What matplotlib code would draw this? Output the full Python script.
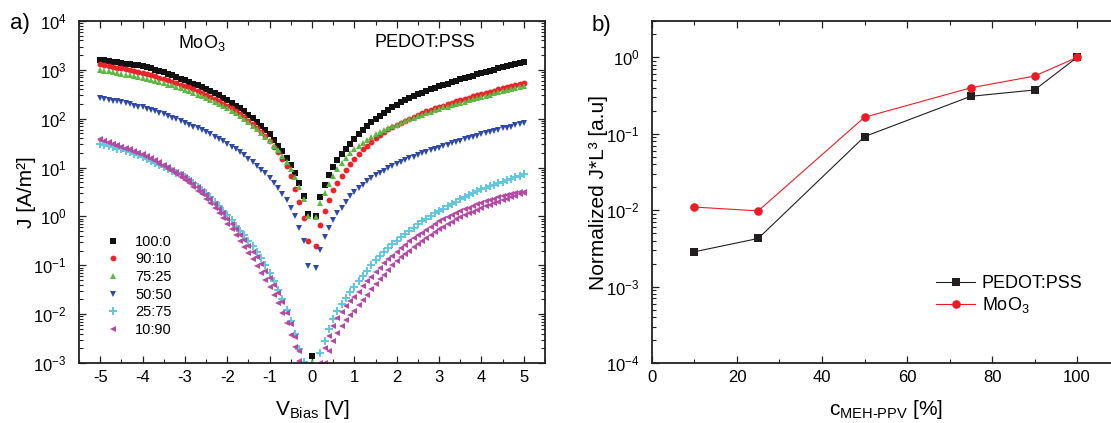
import numpy as np
import matplotlib
matplotlib.use("Agg")
import matplotlib.pyplot as plt
from matplotlib.ticker import MultipleLocator, LogLocator, NullFormatter

plt.rcParams['font.family'] = ['Liberation Sans', 'DejaVu Sans']
plt.rcParams['mathtext.fontset'] = 'custom'
plt.rcParams['mathtext.rm'] = 'Liberation Sans'
plt.rcParams['mathtext.it'] = 'Liberation Sans:italic'
plt.rcParams['mathtext.bf'] = 'Liberation Sans:bold'
plt.rcParams['axes.unicode_minus'] = False

# ---------------- panel a) data : bias sweep and log10(J)
bias_v = [-5.0, -4.9, -4.8, -4.7, -4.6, -4.5, -4.4, -4.3, -4.2, -4.1,
          -4.0, -3.9, -3.8, -3.7, -3.6, -3.5, -3.4, -3.3, -3.2, -3.1,
          -3.0, -2.9, -2.8, -2.7, -2.6, -2.5, -2.4, -2.3, -2.2, -2.1,
          -2.0, -1.9, -1.8, -1.7, -1.6, -1.5, -1.4, -1.3, -1.2, -1.1,
          -1.0, -0.9, -0.8, -0.7, -0.6, -0.5, -0.4, -0.3, -0.2, -0.1,
          0.0, 0.1, 0.2, 0.3, 0.4, 0.5, 0.6, 0.7, 0.8, 0.9,
          1.0, 1.1, 1.2, 1.3, 1.4, 1.5, 1.6, 1.7, 1.8, 1.9,
          2.0, 2.1, 2.2, 2.3, 2.4, 2.5, 2.6, 2.7, 2.8, 2.9,
          3.0, 3.1, 3.2, 3.3, 3.4, 3.5, 3.6, 3.7, 3.8, 3.9,
          4.0, 4.1, 4.2, 4.3, 4.4, 4.5, 4.6, 4.7, 4.8, 4.9, 5.0]

log_j_100_0 = [3.21, 3.20, 3.19, 3.17, 3.16, 3.15, 3.13, 3.12, 3.10, 3.09,
               3.07, 3.05, 3.03, 3.00, 2.98, 2.95, 2.92, 2.89, 2.86, 2.82,
               2.79, 2.75, 2.72, 2.68, 2.65, 2.61, 2.57, 2.53, 2.48, 2.43,
               2.38, 2.33, 2.27, 2.21, 2.15, 2.08, 2.01, 1.93, 1.85, 1.77,
               1.68, 1.57, 1.45, 1.33, 1.20, 1.05, 0.88, 0.69, 0.42, 0.04,
               -2.85, 0.01, 0.39, 0.64, 0.84, 1.01, 1.15, 1.27, 1.38, 1.49,
               1.59, 1.68, 1.77, 1.85, 1.93, 2.00, 2.06, 2.12, 2.18, 2.24,
               2.29, 2.34, 2.38, 2.42, 2.46, 2.50, 2.53, 2.57, 2.60, 2.63,
               2.66, 2.69, 2.72, 2.75, 2.78, 2.81, 2.83, 2.86, 2.88, 2.91,
               2.93, 2.95, 2.98, 3.00, 3.03, 3.05, 3.07, 3.09, 3.12, 3.14, 3.16]

log_j_90_10 = [3.11, 3.09, 3.08, 3.06, 3.04, 3.03, 3.01, 2.99, 2.97, 2.96,
               2.94, 2.92, 2.89, 2.87, 2.84, 2.82, 2.79, 2.76, 2.73, 2.70,
               2.67, 2.64, 2.60, 2.57, 2.53, 2.49, 2.45, 2.41, 2.36, 2.31,
               2.26, 2.21, 2.15, 2.09, 2.03, 1.96, 1.89, 1.81, 1.73, 1.64,
               1.54, 1.43, 1.32, 1.18, 1.03, 0.83, 0.56, 0.30, -0.03, -0.51,
               -3.50, -0.61, -0.17, 0.11, 0.34, 0.54, 0.69, 0.83, 0.96, 1.07,
               1.17, 1.27, 1.37, 1.45, 1.53, 1.60, 1.66, 1.72, 1.78, 1.83,
               1.88, 1.92, 1.96, 2.00, 2.04, 2.08, 2.11, 2.15, 2.18, 2.21,
               2.24, 2.27, 2.30, 2.33, 2.36, 2.38, 2.41, 2.43, 2.46, 2.48,
               2.51, 2.53, 2.55, 2.57, 2.60, 2.62, 2.64, 2.66, 2.68, 2.71, 2.74]

log_j_75_25 = [3.00, 2.98, 2.97, 2.95, 2.94, 2.92, 2.90, 2.89, 2.87, 2.86,
               2.84, 2.82, 2.80, 2.78, 2.75, 2.73, 2.70, 2.68, 2.65, 2.62,
               2.59, 2.56, 2.53, 2.49, 2.46, 2.42, 2.39, 2.35, 2.30, 2.26,
               2.21, 2.16, 2.11, 2.05, 1.99, 1.93, 1.86, 1.79, 1.71, 1.63,
               1.54, 1.45, 1.35, 1.24, 1.11, 0.97, 0.80, 0.60, 0.36, 0.01,
               -2.98, -0.01, 0.28, 0.48, 0.67, 0.83, 0.97, 1.09, 1.19, 1.29,
               1.37, 1.44, 1.51, 1.57, 1.63, 1.68, 1.72, 1.77, 1.81, 1.85,
               1.88, 1.92, 1.95, 1.99, 2.02, 2.05, 2.08, 2.11, 2.14, 2.17,
               2.20, 2.23, 2.25, 2.28, 2.30, 2.33, 2.35, 2.38, 2.40, 2.43,
               2.45, 2.47, 2.49, 2.52, 2.54, 2.56, 2.58, 2.61, 2.63, 2.65, 2.67]

log_j_50_50 = [2.43, 2.41, 2.39, 2.37, 2.36, 2.34, 2.32, 2.30, 2.27, 2.25,
               2.23, 2.20, 2.17, 2.15, 2.12, 2.09, 2.06, 2.02, 1.99, 1.96,
               1.92, 1.88, 1.84, 1.80, 1.76, 1.72, 1.68, 1.63, 1.59, 1.54,
               1.49, 1.43, 1.37, 1.31, 1.25, 1.18, 1.11, 1.04, 0.96, 0.88,
               0.79, 0.69, 0.58, 0.46, 0.33, 0.18, 0.00, -0.23, -0.51, -1.01,
               -3.50, -1.05, -0.69, -0.43, -0.24, -0.08, 0.06, 0.18, 0.30, 0.41,
               0.50, 0.58, 0.65, 0.72, 0.78, 0.84, 0.89, 0.94, 0.99, 1.03,
               1.07, 1.11, 1.15, 1.19, 1.22, 1.26, 1.29, 1.32, 1.35, 1.38,
               1.41, 1.44, 1.47, 1.50, 1.52, 1.55, 1.58, 1.60, 1.63, 1.65,
               1.68, 1.70, 1.73, 1.75, 1.77, 1.80, 1.82, 1.84, 1.87, 1.89, 1.92]

log_j_25_75 = [1.49, 1.47, 1.44, 1.42, 1.39, 1.37, 1.34, 1.31, 1.28, 1.25,
               1.22, 1.18, 1.14, 1.10, 1.06, 1.02, 0.98, 0.94, 0.89, 0.85,
               0.80, 0.74, 0.68, 0.61, 0.54, 0.47, 0.39, 0.30, 0.21, 0.12,
               0.02, -0.08, -0.19, -0.29, -0.39, -0.50, -0.61, -0.73, -0.85, -0.99,
               -1.15, -1.32, -1.50, -1.70, -1.92, -2.15, -2.40, -2.72, -2.98, -3.40,
               -4.00, -3.30, -2.80, -2.54, -2.30, -2.10, -1.94, -1.80, -1.67, -1.55,
               -1.44, -1.33, -1.22, -1.11, -1.00, -0.90, -0.81, -0.73, -0.65, -0.57,
               -0.50, -0.43, -0.36, -0.29, -0.23, -0.16, -0.10, -0.05, 0.01, 0.06,
               0.11, 0.16, 0.21, 0.26, 0.30, 0.35, 0.39, 0.43, 0.47, 0.52,
               0.56, 0.59, 0.62, 0.65, 0.68, 0.71, 0.74, 0.77, 0.80, 0.83, 0.86]

# 10:90 shows two sweeps
log_j_10_90_a = [1.58, 1.55, 1.52, 1.49, 1.46, 1.43, 1.40, 1.37, 1.34, 1.30,
                 1.27, 1.23, 1.19, 1.15, 1.11, 1.06, 1.01, 0.96, 0.91, 0.86,
                 0.80, 0.74, 0.67, 0.60, 0.52, 0.44, 0.35, 0.26, 0.16, 0.06,
                 -0.05, -0.15, -0.26, -0.37, -0.48, -0.60, -0.72, -0.84, -0.97, -1.11,
                 -1.25, -1.40, -1.57, -1.76, -1.97, -2.20, -2.46, -2.76, -3.05, -3.50,
                 -4.00, -3.60, -3.00, -2.70, -2.45, -2.24, -2.08, -1.95, -1.84, -1.74,
                 -1.65, -1.54, -1.43, -1.33, -1.23, -1.14, -1.05, -0.96, -0.88, -0.80,
                 -0.72, -0.65, -0.58, -0.51, -0.45, -0.39, -0.33, -0.27, -0.21, -0.15,
                 -0.10, -0.06, -0.02, 0.03, 0.07, 0.11, 0.15, 0.18, 0.22, 0.25,
                 0.28, 0.31, 0.34, 0.36, 0.39, 0.41, 0.43, 0.45, 0.47, 0.49, 0.51]

log_j_10_90_b = [1.57, 1.54, 1.51, 1.48, 1.45, 1.42, 1.39, 1.36, 1.32, 1.29,
                 1.25, 1.21, 1.17, 1.13, 1.08, 1.03, 0.98, 0.93, 0.87, 0.81,
                 0.75, 0.68, 0.61, 0.53, 0.45, 0.36, 0.27, 0.17, 0.07, -0.04,
                 -0.15, -0.26, -0.38, -0.50, -0.62, -0.75, -0.88, -1.01, -1.15, -1.30,
                 -1.45, -1.61, -1.78, -1.97, -2.18, -2.42, -2.68, -2.96, -3.30, -3.70,
                 -4.00, -3.80, -3.40, -3.00, -2.75, -2.54, -2.38, -2.24, -2.12, -2.02,
                 -1.93, -1.82, -1.71, -1.60, -1.49, -1.39, -1.29, -1.19, -1.09, -1.00,
                 -0.91, -0.84, -0.77, -0.70, -0.63, -0.57, -0.51, -0.45, -0.39, -0.32,
                 -0.26, -0.21, -0.16, -0.11, -0.06, -0.02, 0.02, 0.06, 0.10, 0.14,
                 0.18, 0.21, 0.24, 0.27, 0.30, 0.33, 0.36, 0.39, 0.42, 0.45, 0.48]

series_labels = ['100:0', '90:10', '75:25', '50:50', '25:75', '10:90']

# ---------------- panel b) data
c_meh_ppv = [10, 25, 50, 75, 90, 100]
norm_pedot = [0.00286, 0.00427, 0.092, 0.31, 0.375, 1.0]
norm_moo3 = [0.0110, 0.0098, 0.165, 0.40, 0.57, 1.0]

# ---------------- figure
W, H = 1111, 423
fig = plt.figure(figsize=(W / 100, H / 100), dpi=100)
ax1 = fig.add_axes([79 / W, 60 / H, 466 / W, 342 / H])
ax2 = fig.add_axes([652 / W, 60 / H, 467.5 / W, 342 / H])

styles = [
    dict(marker='s', color='#111111', ms=4.0),
    dict(marker='o', color='#ee2229', ms=4.2),
    dict(marker='^', color='#5cb944', ms=4.6),
    dict(marker='v', color='#2e4aa6', ms=4.6),
    dict(marker='P', color='#62c8df', ms=5.2),
    dict(marker='<', color='#b44aa4', ms=4.6),
]
series = [log_j_100_0, log_j_90_10, log_j_75_25, log_j_50_50, log_j_25_75, log_j_10_90_a]
for lj, st, lab in zip(series, styles, series_labels):
    ax1.plot(bias_v, 10 ** np.array(lj), linestyle='none', mew=0, label=lab, **st)
ax1.plot(bias_v, 10 ** np.array(log_j_10_90_b), linestyle='none', mew=0, **styles[5])

ax1.set_yscale('log')
ax1.set_xlim(-5.5, 5.5)
ax1.set_ylim(1e-3, 1e4)
ax1.xaxis.set_major_locator(MultipleLocator(1))
ax1.xaxis.set_minor_locator(MultipleLocator(0.5))
ax1.yaxis.set_major_locator(LogLocator(base=10, numticks=20))
ax1.yaxis.set_minor_locator(LogLocator(base=10, subs=np.arange(2, 10), numticks=20))
ax1.yaxis.set_minor_formatter(NullFormatter())

ax2.plot(c_meh_ppv, norm_pedot, color='#231f20', marker='s', ms=5.2, lw=0.8, mew=0, label='PEDOT:PSS')
ax2.plot(c_meh_ppv, norm_moo3, color='#ed1c24', marker='o', ms=6.2, lw=0.8, mew=0, label='MoO$_3$')
ax2.set_yscale('log')
ax2.set_xlim(0, 110)
ax2.set_ylim(1e-4, 3)
ax2.xaxis.set_major_locator(MultipleLocator(20))
ax2.xaxis.set_minor_locator(MultipleLocator(10))
ax2.yaxis.set_major_locator(LogLocator(base=10, numticks=20))
ax2.yaxis.set_minor_locator(LogLocator(base=10, subs=np.arange(2, 10), numticks=20))
ax2.yaxis.set_minor_formatter(NullFormatter())

for ax in (ax1, ax2):
    for sp in ax.spines.values():
        sp.set_linewidth(1.3)
        sp.set_color('#222222')
    ax.tick_params(which='both', direction='in', top=True, right=True, color='#222222')
    ax.tick_params(which='major', length=5, width=0.9, labelsize=12)
    ax.tick_params(which='minor', length=2.6, width=0.8)
    ax.tick_params(axis='y', which='major', pad=9)
    ax.tick_params(axis='x', which='major', pad=5)

ax1.set_ylabel('J [A/m²]', fontsize=15)
ax1.yaxis.set_label_coords(-0.092, 0.5)
ax1.set_xlabel('V$_{\\mathrm{Bias}}$ [V]', fontsize=15)
ax1.xaxis.set_label_coords(0.5, -0.170)
ax1.xaxis.label.set_va('bottom')

ax2.set_ylabel('Normalized J*L³ [a.u]', fontsize=15)
ax2.yaxis.set_label_coords(-0.095, 0.5)
ax2.set_xlabel('c$_{\\mathrm{MEH}\\text{-}\\mathrm{PPV}}$ [%]', fontsize=15)
ax2.xaxis.set_label_coords(0.5, -0.170)
ax2.xaxis.label.set_va('bottom')

ax1.text(-3.16, 10 ** 3.55, 'MoO$_3$', fontsize=13, ha='left', va='center')
ax1.text(2.67, 10 ** 3.55, 'PEDOT:PSS', fontsize=13, ha='center', va='center')

ax1.legend(loc='lower left', bbox_to_anchor=(0.058, 0.076), frameon=False, fontsize=10.5,
           borderpad=0, borderaxespad=0, handlelength=1.0, handletextpad=1.0,
           labelspacing=0.25, markerscale=1.0)
ax2.legend(loc='lower left', bbox_to_anchor=(0.607, 0.14), frameon=False, fontsize=13,
           borderpad=0, borderaxespad=0, handlelength=2.2, handletextpad=0.35,
           labelspacing=0.15)

fig.text(10 / W, 1 - 24 / H, 'a)', fontsize=16, ha='left', va='center')
fig.text(592 / W, 1 - 26 / H, 'b)', fontsize=16, ha='left', va='center')

fig.savefig('out.png', dpi=100)
